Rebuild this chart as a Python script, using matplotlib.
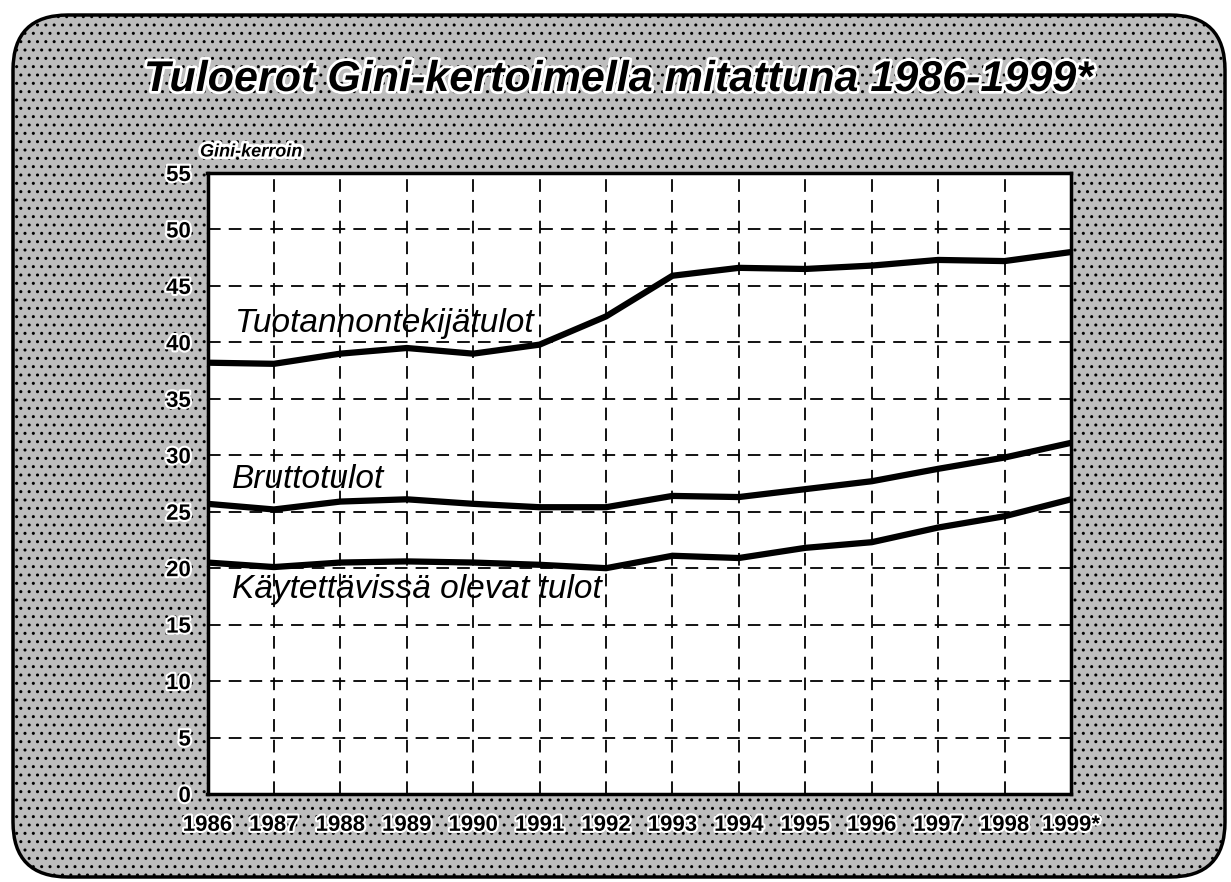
import matplotlib
matplotlib.use("Agg")
import matplotlib.pyplot as plt
import matplotlib.patheffects as pe
from matplotlib.patches import FancyBboxPatch

# Gini coefficients
years = [1986, 1987, 1988, 1989, 1990, 1991, 1992, 1993, 1994, 1995, 1996, 1997, 1998, 1999]
year_labels = ["1986", "1987", "1988", "1989", "1990", "1991", "1992",
               "1993", "1994", "1995", "1996", "1997", "1998", "1999*"]
tuotannontekija = [38.2, 38.1, 39.0, 39.5, 39.0, 39.8, 42.3, 45.9, 46.6, 46.5, 46.8, 47.3, 47.2, 48.0]
brutto = [25.7, 25.2, 25.9, 26.1, 25.7, 25.4, 25.4, 26.4, 26.3, 27.0, 27.7, 28.8, 29.8, 31.1]
kaytettavissa = [20.5, 20.1, 20.5, 20.6, 20.5, 20.3, 20.0, 21.1, 20.9, 21.8, 22.3, 23.6, 24.6, 26.1]
y_ticks = [0, 5, 10, 15, 20, 25, 30, 35, 40, 45, 50, 55]

FONT = "Liberation Sans"
halo = [pe.withStroke(linewidth=4, foreground="white")]
plt.rcParams["hatch.color"] = "#7a7a7a"

fig = plt.figure(figsize=(12.31, 8.82), dpi=100)
fig.patch.set_facecolor("white")

# background frame, in pixel coordinates
bg = fig.add_axes([0, 0, 1, 1])
bg.set_xlim(0, 1231)
bg.set_ylim(882, 0)
bg.axis("off")
frame = FancyBboxPatch((13, 15), 1212, 862, boxstyle="round,pad=0,rounding_size=55",
                       facecolor="#bdbdbd", edgecolor="black", linewidth=2.5,
                       hatch="..", zorder=0)
bg.add_patch(frame)

bg.text(618, 80, "Tuloerot Gini-kertoimella mitattuna 1986-1999*", family=FONT,
        fontsize=31, fontweight="bold", style="italic", ha="center", va="center",
        path_effects=halo)
bg.text(200, 152, "Gini-kerroin", family=FONT, fontsize=13, fontweight="bold",
        style="italic", ha="left", va="center", path_effects=halo)

ax = fig.add_axes([207.5 / 1231, 88 / 882, 863.5 / 1231, 621 / 882])
ax.set_facecolor("white")
ax.set_xlim(1986, 1999)
ax.set_ylim(0, 55)

ax.plot(years, tuotannontekija, color="black", lw=4.5, solid_joinstyle="round", zorder=3)
ax.plot(years, brutto, color="black", lw=4.5, solid_joinstyle="round", zorder=3)
ax.plot(years, kaytettavissa, color="black", lw=4.5, solid_joinstyle="round", zorder=3)

ax.set_xticks(years)
ax.set_xticklabels(year_labels)
ax.set_yticks(y_ticks)
ax.grid(True, color="black", linestyle=(0, (7, 4.5)), linewidth=1.3)
ax.set_axisbelow(True)
ax.tick_params(length=0, labelsize=16)
ax.tick_params(axis="x", pad=15)
ax.tick_params(axis="y", pad=12)
for lab in ax.get_xticklabels() + ax.get_yticklabels():
    lab.set_family(FONT)
    lab.set_fontweight("bold")
    lab.set_path_effects([pe.withStroke(linewidth=3, foreground="white")])
for sp in ax.spines.values():
    sp.set_linewidth(2.5)

lab_kw = dict(family=FONT, fontsize=24, style="italic", ha="left", va="baseline", zorder=4)
ax.text(1986.42, 40.9, "Tuotannontekijätulot", **lab_kw)
ax.text(1986.37, 27.1, "Bruttotulot", **lab_kw)
ax.text(1986.37, 17.4, "Käytettävissä olevat tulot", **lab_kw)

fig.savefig("out.png", dpi=100)
